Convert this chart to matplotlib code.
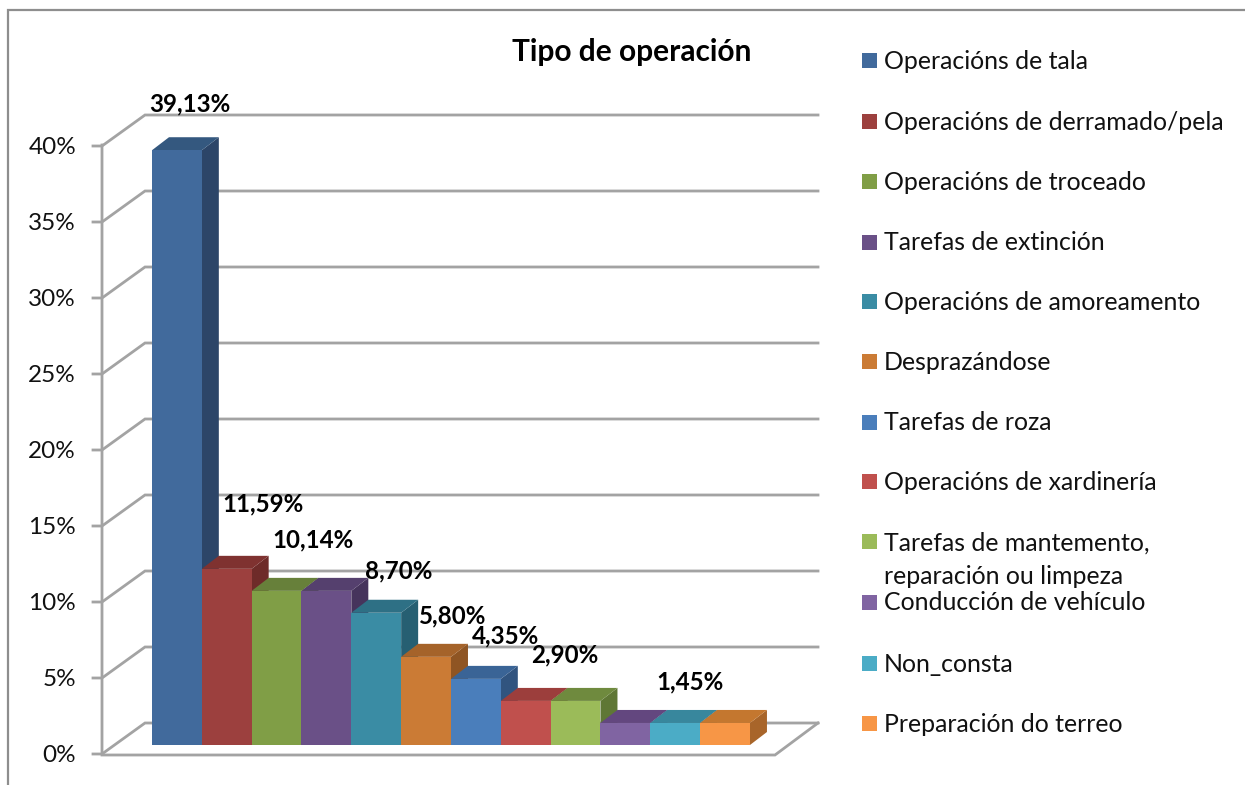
import matplotlib
matplotlib.use("Agg")
import matplotlib.pyplot as plt
from matplotlib.patches import Polygon, Rectangle

plt.rcParams['font.family'] = ['Lato', 'DejaVu Sans']

categories = ["Operacións de tala", "Operacións de derramado/pela", "Operacións de troceado",
              "Tarefas de extinción", "Operacións de amoreamento", "Desprazándose", "Tarefas de roza",
              "Operacións de xardinería", "Tarefas de mantemento,\nreparación ou limpeza",
              "Conducción de vehículo", "Non_consta", "Preparación do terreo"]
values = [39.13, 11.59, 10.14, 10.14, 8.70, 5.80, 4.35, 2.90, 2.90, 1.45, 1.45, 1.45]
yticks = [0, 5, 10, 15, 20, 25, 30, 35, 40]
title = "Tipo de operación"

front = ['#416A9C', '#9C403E', '#809E46', '#6A5087', '#3A8CA4', '#CB7B35',
         '#4A7EBB', '#C0504D', '#9BBB59', '#8064A2', '#4BACC6', '#F79646']
top = ['#34587F', '#7F3230', '#67803A', '#55406E', '#2E7085', '#A5632A',
       '#3A6496', '#9C3E3C', '#6F8A3E', '#63477F', '#38879D', '#C4772F']
side = ['#2C4568', '#6E2B29', '#5B7132', '#46345C', '#265F72', '#8F5523',
        '#31547F', '#863432', '#5F7735', '#553D6E', '#2F7488', '#A8652A']

# labels shown: bar index -> offset in pixels from the centre of the bar's top
label_bars = [0, 1, 2, 4, 5, 6, 8, 11]
label_off = {0: (13, -46), 1: (36, -65), 2: (36, -51), 4: (22, -42), 5: (27, -41), 6: (30, -43), 8: (-11, -46), 11: (-35, -41)}

W, H = 1245, 785
X0, XU, Y0, YU = 152, 49.83, 745, 15.2
DX, DY = 17 / XU, 13 / YU

fig = plt.figure(figsize=(W / 100, H / 100), dpi=100, facecolor='white')
ax = fig.add_axes([0, 0, 1, 1])
ax.set_xlim((0 - X0) / XU, (W - X0) / XU)
ax.set_ylim((Y0 - H) / YU, Y0 / YU)
ax.axis('off')

def px(x): return (x - X0) / XU
def py(y): return (Y0 - y) / YU

grey = '#A3A3A3'
lw = 2.0
# outer frame
ax.plot([px(8), px(8), px(W)], [py(H), py(10), py(10)], color='#8E8E8E', lw=1.6, zorder=1,
        solid_joinstyle='miter')

# walls, gridlines, ticks
for t in yticks:
    yf = 754 - t * YU
    yb = 723 - t * YU
    ax.plot([px(93), px(102), px(145), px(818)], [py(yf), py(yf), py(yb), py(yb)],
            color=grey, lw=lw, zorder=2, solid_joinstyle='miter')
    ax.text(px(76), py(yf + 1.5), f"{t}%", ha='right', va='center',
            fontsize=17.5, color='#111111', zorder=6)
ax.plot([px(102), px(102), px(775), px(818)], [py(145), py(755), py(755), py(723)],
        color=grey, lw=lw, zorder=2, solid_joinstyle='miter')

# 3D bars, left to right so each bar covers the side of the previous one
for i, v in enumerate(values):
    z = 3 + i * 0.01
    ax.add_patch(Polygon([(i + 1, 0), (i + 1 + DX, DY), (i + 1 + DX, v + DY), (i + 1, v)],
                         closed=True, fc=side[i], ec='none', zorder=z))
    ax.add_patch(Polygon([(i, v), (i + DX, v + DY), (i + 1 + DX, v + DY), (i + 1, v)],
                         closed=True, fc=top[i], ec='none', zorder=z))
    ax.add_patch(Rectangle((i, 0), 1, v, fc=front[i], ec='none', zorder=z))

# value labels
for i in label_bars:
    ox, oy = label_off[i]
    v = values[i]
    ax.text(i + 0.5 + ox / XU, v - oy / YU, f"{v:.2f}%".replace('.', ','), ha='center', va='center',
            fontsize=17.4, fontweight='bold', color='black', zorder=7)

# title
ax.text(px(632), py(52), title, ha='center', va='center', fontsize=21.5, fontweight='bold',
        color='black', zorder=7)

# legend
leg_y = [61, 122, 182, 242, 302, 362, 422, 482, 558, 602, 663, 723]
fs = 17.9
for name, c, y in zip(categories, front, leg_y):
    if '\n' in name:
        ax.add_patch(Rectangle((px(862), py(549)), 15 / XU, 15 / YU, fc=c, ec='none', zorder=5))
        a, b = name.split('\n')
        ax.text(px(884), py(543), a, ha='left', va='center', fontsize=fs, color='#111111')
        ax.text(px(884), py(576), b, ha='left', va='center', fontsize=fs, color='#111111')
    else:
        ax.add_patch(Rectangle((px(862), py(y + 7.5)), 15 / XU, 15 / YU, fc=c, ec='none', zorder=5))
        ax.text(px(884), py(y + 1), name, ha='left', va='center', fontsize=fs, color='#111111')

fig.savefig('out.png', dpi=100, facecolor='white')
